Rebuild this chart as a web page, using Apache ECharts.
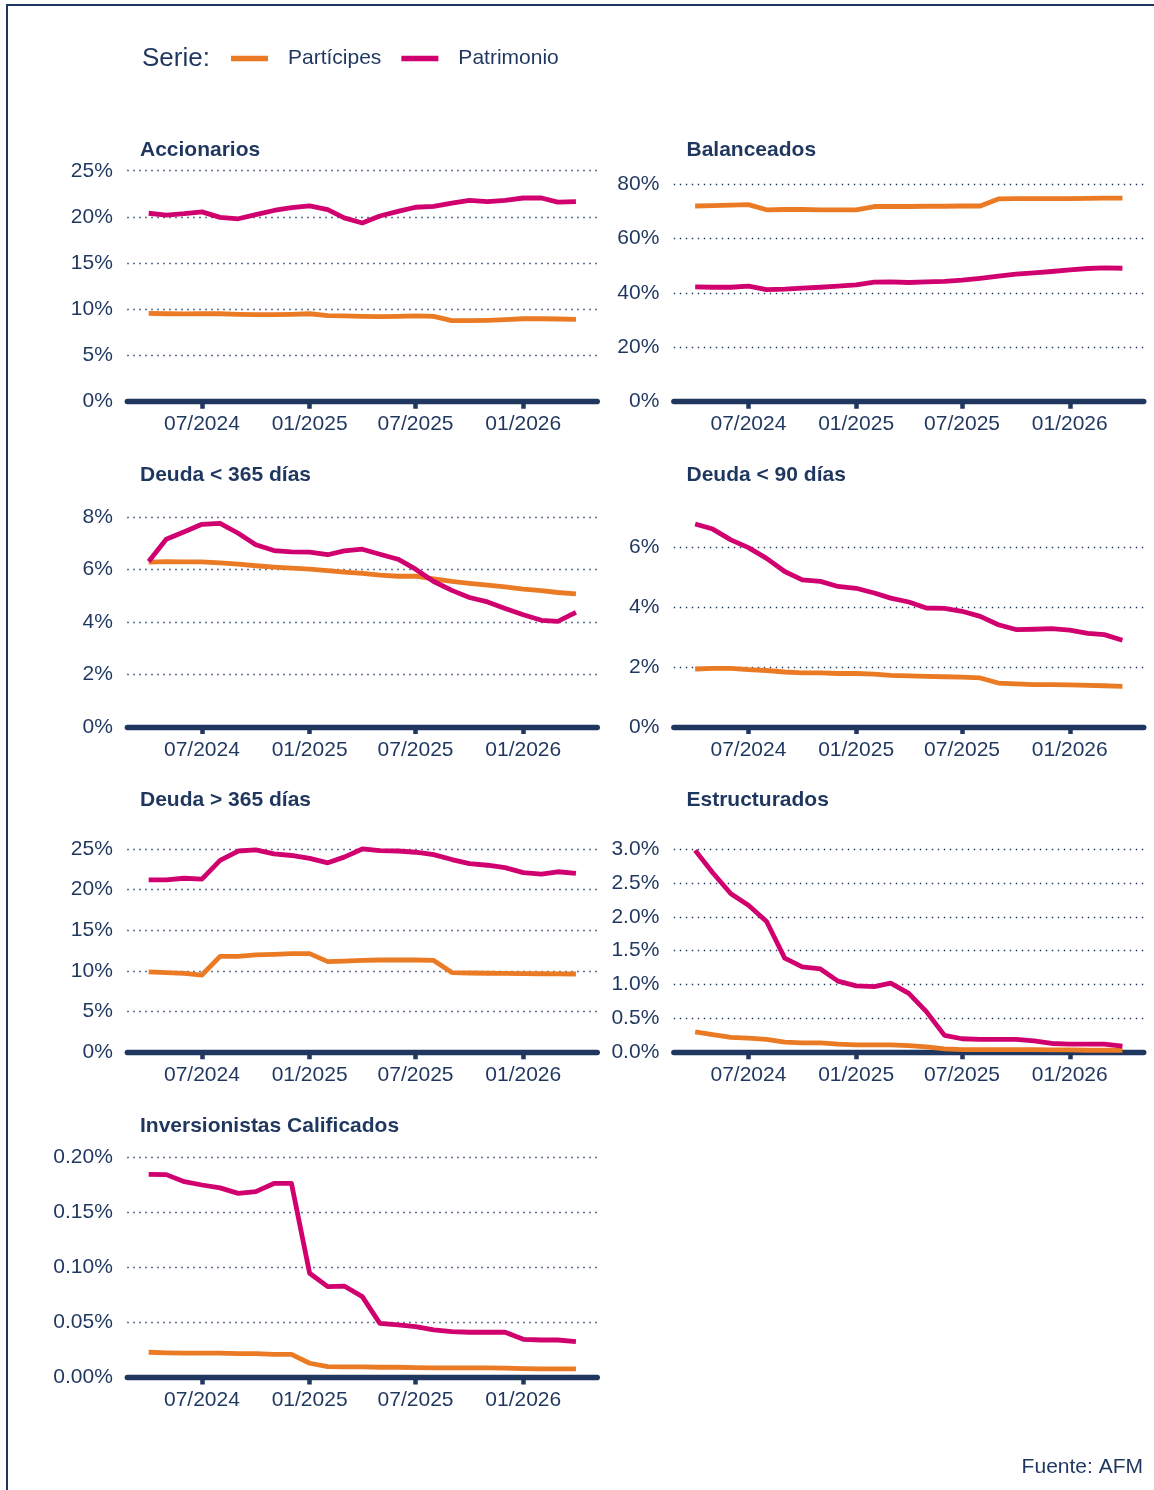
<!DOCTYPE html>
<html>
<head>
<meta charset="utf-8">
<script src="https://cdn.jsdelivr.net/npm/echarts@6/dist/echarts.min.js"></script>
<style>
html,body{margin:0;padding:0;background:#fff;}
#chart{width:1154px;height:1490px;}
</style>
</head>
<body>
<div id="chart"></div>
<script>
// ---------- DATA ----------
const months = ['2024-04','2024-05','2024-06','2024-07','2024-08','2024-09','2024-10','2024-11','2024-12',
  '2025-01','2025-02','2025-03','2025-04','2025-05','2025-06','2025-07','2025-08','2025-09','2025-10',
  '2025-11','2025-12','2026-01','2026-02','2026-03','2026-04'];
const xTickMonths = ['2024-07','2025-01','2025-07','2026-01'];
const seriesNames = ['Partícipes','Patrimonio'];
const panelTitles = ['Accionarios','Balanceados','Deuda < 365 días','Deuda < 90 días','Deuda > 365 días','Estructurados','Inversionistas Calificados'];

const accionariosParticipes = [9.55,9.52,9.5,9.52,9.52,9.46,9.43,9.43,9.46,9.52,9.32,9.28,9.24,9.21,9.24,9.28,9.24,8.78,8.78,8.81,8.88,8.98,8.98,8.95,8.92];
const accionariosPatrimonio = [20.4,20.2,20.35,20.55,19.95,19.8,20.25,20.7,21.0,21.2,20.8,19.9,19.35,20.1,20.6,21.05,21.15,21.5,21.8,21.65,21.8,22.05,22.05,21.6,21.65];

const balanceadosParticipes = [72.0,72.1,72.3,72.5,70.6,70.7,70.7,70.6,70.6,70.6,71.8,71.8,71.8,71.9,71.9,72.0,72.0,74.6,74.7,74.7,74.7,74.7,74.8,74.9,74.9];
const balanceadosPatrimonio = [42.25,42.1,42.1,42.5,41.2,41.4,41.8,42.1,42.5,43.0,44.0,44.1,43.85,44.1,44.3,44.7,45.4,46.2,46.9,47.4,47.9,48.5,49.0,49.2,49.1];

const deuda365Participes = [6.29,6.31,6.3,6.3,6.26,6.21,6.15,6.1,6.06,6.02,5.96,5.91,5.86,5.79,5.75,5.75,5.65,5.55,5.48,5.41,5.34,5.26,5.2,5.13,5.08];
const deuda365Patrimonio = [6.31,7.16,7.45,7.73,7.77,7.39,6.95,6.73,6.68,6.67,6.57,6.72,6.78,6.59,6.4,6.02,5.55,5.21,4.94,4.77,4.52,4.28,4.07,4.03,4.37];

const deuda90Participes = [1.94,1.96,1.96,1.92,1.89,1.84,1.81,1.81,1.79,1.79,1.77,1.73,1.71,1.69,1.68,1.67,1.64,1.47,1.44,1.42,1.42,1.41,1.39,1.38,1.36];
const deuda90Patrimonio = [6.79,6.62,6.26,6.0,5.64,5.2,4.92,4.87,4.7,4.64,4.48,4.31,4.18,3.98,3.97,3.87,3.7,3.42,3.26,3.27,3.29,3.24,3.13,3.09,2.9];

const deudaMas365Participes = [9.88,9.8,9.7,9.5,11.8,11.8,11.97,12.05,12.13,12.13,11.15,11.2,11.3,11.35,11.35,11.35,11.3,9.8,9.75,9.72,9.7,9.68,9.66,9.65,9.63];
const deudaMas365Patrimonio = [21.2,21.2,21.4,21.3,23.6,24.75,24.9,24.4,24.2,23.85,23.3,24.0,25.0,24.8,24.75,24.6,24.3,23.7,23.2,23.0,22.7,22.1,21.9,22.2,22.0];

const estructuradosParticipes = [0.30,0.26,0.22,0.21,0.19,0.15,0.14,0.14,0.12,0.11,0.11,0.11,0.10,0.08,0.05,0.04,0.04,0.04,0.04,0.04,0.035,0.035,0.03,0.03,0.03];
const estructuradosPatrimonio = [2.98,2.65,2.34,2.17,1.93,1.39,1.26,1.23,1.05,0.98,0.97,1.02,0.87,0.6,0.25,0.2,0.19,0.19,0.19,0.17,0.13,0.12,0.12,0.12,0.09];

const calificadosParticipes = [0.023,0.0224,0.0221,0.0221,0.0221,0.0218,0.0218,0.0211,0.0211,0.013,0.010,0.0097,0.0097,0.0094,0.0094,0.0091,0.0088,0.0088,0.0088,0.0088,0.0085,0.0082,0.0079,0.0079,0.0079];
const calificadosPatrimonio = [0.1843,0.184,0.1776,0.1746,0.172,0.167,0.1686,0.176,0.176,0.0946,0.0825,0.083,0.0734,0.0492,0.0477,0.0462,0.0432,0.0417,0.0411,0.0411,0.0411,0.0347,0.0341,0.0341,0.0326];

const sourceText = 'Fuente: AFM';
const legendLabel = 'Serie:';

// ---------- LAYOUT / STYLE ----------
const NAVY = '#1f375f';
const ORANGE = '#EA7A24';
const MAGENTA = '#D1006F';
const FONT = '"Liberation Sans", Arial, sans-serif';

const panelData = [
  [accionariosParticipes, accionariosPatrimonio],
  [balanceadosParticipes, balanceadosPatrimonio],
  [deuda365Participes, deuda365Patrimonio],
  [deuda90Participes, deuda90Patrimonio],
  [deudaMas365Participes, deudaMas365Patrimonio],
  [estructuradosParticipes, estructuradosPatrimonio],
  [calificadosParticipes, calificadosPatrimonio]
];
const panelAxis = [
  {max: 25.6, interval: 5, dec: 0},
  {max: 87.0, interval: 20, dec: 0},
  {max: 9.02, interval: 2, dec: 0},
  {max: 7.91, interval: 2, dec: 0},
  {max: 29.08, interval: 5, dec: 0},
  {max: 3.49, interval: 0.5, dec: 1},
  {max: 0.2144, interval: 0.05, dec: 2}
];

const colLeft = [127.3, 673.8];
const plotW = 470;
const plotH = 236.5;
const row0Bottom = 401.7;
const rowStep = 325.3;

function toTs(m) { const [y, mo] = m.split('-').map(Number); return Date.UTC(y, mo - 1, 1); }
const xs = months.map(toTs);
const span = xs[xs.length - 1] - xs[0];
const xMin = xs[0] - 0.05 * span;
const xMax = xs[xs.length - 1] + 0.05 * span;
const xTicks = xTickMonths.map(toTs);

const grids = [], xAxes = [], yAxes = [], series = [], titles = [];
panelData.forEach((pair, i) => {
  const col = i % 2, row = Math.floor(i / 2);
  const bottom = row0Bottom + row * rowStep;
  const top = bottom - plotH;
  grids.push({left: colLeft[col], top: top, width: plotW, height: plotH, containLabel: false});
  titles.push({
    text: panelTitles[i], left: colLeft[col] + 12.7, top: 139.6 + row * rowStep, padding: 0,
    textStyle: {fontFamily: FONT, fontSize: 21, fontWeight: 'bold', color: NAVY}
  });
  xAxes.push({
    type: 'value', gridIndex: i, min: xMin, max: xMax, scale: true,
    axisLine: {show: true, onZero: false, lineStyle: {color: NAVY, width: 5.3}},
    axisTick: {show: true, customValues: xTicks, length: 7, lineStyle: {color: NAVY, width: 4.5}},
    axisLabel: {
      customValues: xTicks, margin: 12.5, color: NAVY, fontFamily: FONT, fontSize: 21,
      formatter: v => { const d = new Date(v); return String(d.getUTCMonth() + 1).padStart(2, '0') + '/' + d.getUTCFullYear(); }
    },
    splitLine: {show: false}
  });
  const ax = panelAxis[i];
  yAxes.push({
    type: 'value', gridIndex: i, min: 0, max: ax.max, interval: ax.interval,
    axisLine: {show: false}, axisTick: {show: false},
    axisLabel: {
      margin: 14.5, color: NAVY, fontFamily: FONT, fontSize: 21, showMaxLabel: false,
      padding: [3.5, 0, 0, 0],
      formatter: v => v.toFixed(ax.dec) + '%'
    },
    splitLine: {show: true, showMinLine: false, showMaxLine: false,
      lineStyle: {color: NAVY, width: 1.3, type: [1.4, 4.6]}}
  });
  pair.forEach((vals, k) => {
    series.push({
      name: seriesNames[k], type: 'line', xAxisIndex: i, yAxisIndex: i,
      data: vals.map((v, j) => [xs[j], v]),
      showSymbol: false, symbol: 'none', smooth: false, z: 3 + k,
      lineStyle: {color: k === 0 ? ORANGE : MAGENTA, width: 4.8, join: 'round', cap: 'butt'},
      itemStyle: {color: k === 0 ? ORANGE : MAGENTA},
      emphasis: {disabled: true}
    });
  });
});

const option = {
  animation: false,
  backgroundColor: '#ffffff',
  title: titles,
  legend: {
    data: seriesNames, left: 231, top: 48, icon: 'rect', itemWidth: 37, itemHeight: 5.5,
    itemGap: 20, selectedMode: false, padding: 0,
    textStyle: {fontFamily: FONT, fontSize: 21, color: NAVY, padding: [0, 0, 0, 15]}
  },
  grid: grids, xAxis: xAxes, yAxis: yAxes, series: series,
  graphic: [
    {type: 'polyline', shape: {points: [[7, 1500], [7, 5], [1165, 5]]},
     style: {stroke: NAVY, lineWidth: 2, fill: null}, silent: true},
    {type: 'text', x: 142, y: 59,
     style: {text: legendLabel, fontFamily: FONT, fontSize: 26, fill: NAVY, textAlign: 'left', textVerticalAlign: 'middle'}},
    {type: 'text', x: 1143, y: 1467.5,
     style: {text: sourceText, fontFamily: FONT, fontSize: 21, fill: NAVY, textAlign: 'right', textVerticalAlign: 'middle'}}
  ]
};

const chart = echarts.init(document.getElementById('chart'), null, {renderer: 'canvas'});
chart.setOption(option);
</script>
</body>
</html>
